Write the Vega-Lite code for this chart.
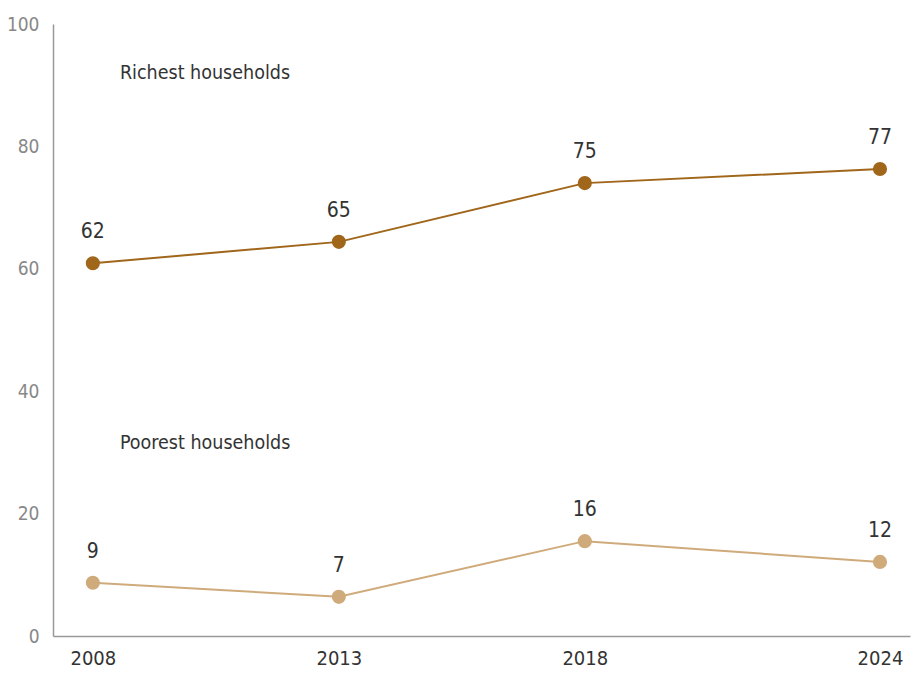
{
  "$schema": "https://vega.github.io/schema/vega-lite/v6.json",
  "autosize": "none",
  "width": 857,
  "height": 612,
  "padding": {"left": 53, "top": 24, "right": 5, "bottom": 43},
  "background": "white",
  "config": {"view": {"stroke": null}, "font": "'DejaVu Sans Condensed', Roboto, sans-serif"},
  "datasets": {
    "pts": [
      {"year": 2008, "group": "Richest", "value": 60.9, "label": "62"},
      {"year": 2013, "group": "Richest", "value": 64.4, "label": "65"},
      {"year": 2018, "group": "Richest", "value": 74.0, "label": "75"},
      {"year": 2024, "group": "Richest", "value": 76.3, "label": "77"},
      {"year": 2008, "group": "Poorest", "value": 8.7, "label": "9"},
      {"year": 2013, "group": "Poorest", "value": 6.4, "label": "7"},
      {"year": 2018, "group": "Poorest", "value": 15.5, "label": "16"},
      {"year": 2024, "group": "Poorest", "value": 12.1, "label": "12"}
    ],
    "names": [
      {"year": 2008.55, "value": 92.0, "text": "Richest households"},
      {"year": 2008.55, "value": 31.5, "text": "Poorest households"}
    ]
  },
  "layer": [
    {
      "data": {"name": "pts"},
      "mark": {"type": "line", "strokeWidth": 2},
      "encoding": {
        "x": {"field": "year", "type": "quantitative", "scale": {"domain": [2007.19, 2024.61], "nice": false, "zero": false},
          "axis": {"values": [2008, 2013, 2018, 2024], "format": "d", "title": null, "grid": false, "ticks": false, "domainColor": "#999", "domainWidth": 1.5, "labelFontSize": 20, "labelColor": "#333", "labelPadding": 12, "labelFont": "'DejaVu Sans Condensed', Roboto, sans-serif"}},
        "y": {"field": "value", "type": "quantitative", "scale": {"domain": [0, 100], "nice": false},
          "axis": {"values": [0, 20, 40, 60, 80, 100], "title": null, "grid": false, "ticks": false, "domainColor": "#999", "domainWidth": 1.5, "labelFontSize": 19, "labelColor": "#888", "labelPadding": 14, "labelFont": "'DejaVu Sans Condensed', Roboto, sans-serif"}},
        "color": {"field": "group", "type": "nominal", "scale": {"domain": ["Richest", "Poorest"], "range": ["#A0661A", "#CFAB7B"]}, "legend": null},
        "detail": {"field": "group"}
      }
    },
    {
      "data": {"name": "pts"},
      "mark": {"type": "circle", "size": 200, "opacity": 1},
      "encoding": {
        "x": {"field": "year", "type": "quantitative"},
        "y": {"field": "value", "type": "quantitative"},
        "color": {"field": "group", "type": "nominal", "legend": null}
      }
    },
    {
      "data": {"name": "pts"},
      "mark": {"type": "text", "dy": -31, "fontSize": 21, "color": "#333", "align": "center", "baseline": "middle"},
      "encoding": {
        "x": {"field": "year", "type": "quantitative"},
        "y": {"field": "value", "type": "quantitative"},
        "text": {"field": "label"}
      }
    },
    {
      "data": {"name": "names"},
      "mark": {"type": "text", "fontSize": 19.5, "color": "#333", "align": "left", "baseline": "middle"},
      "encoding": {
        "x": {"field": "year", "type": "quantitative"},
        "y": {"field": "value", "type": "quantitative"},
        "text": {"field": "text"}
      }
    }
  ]
}
